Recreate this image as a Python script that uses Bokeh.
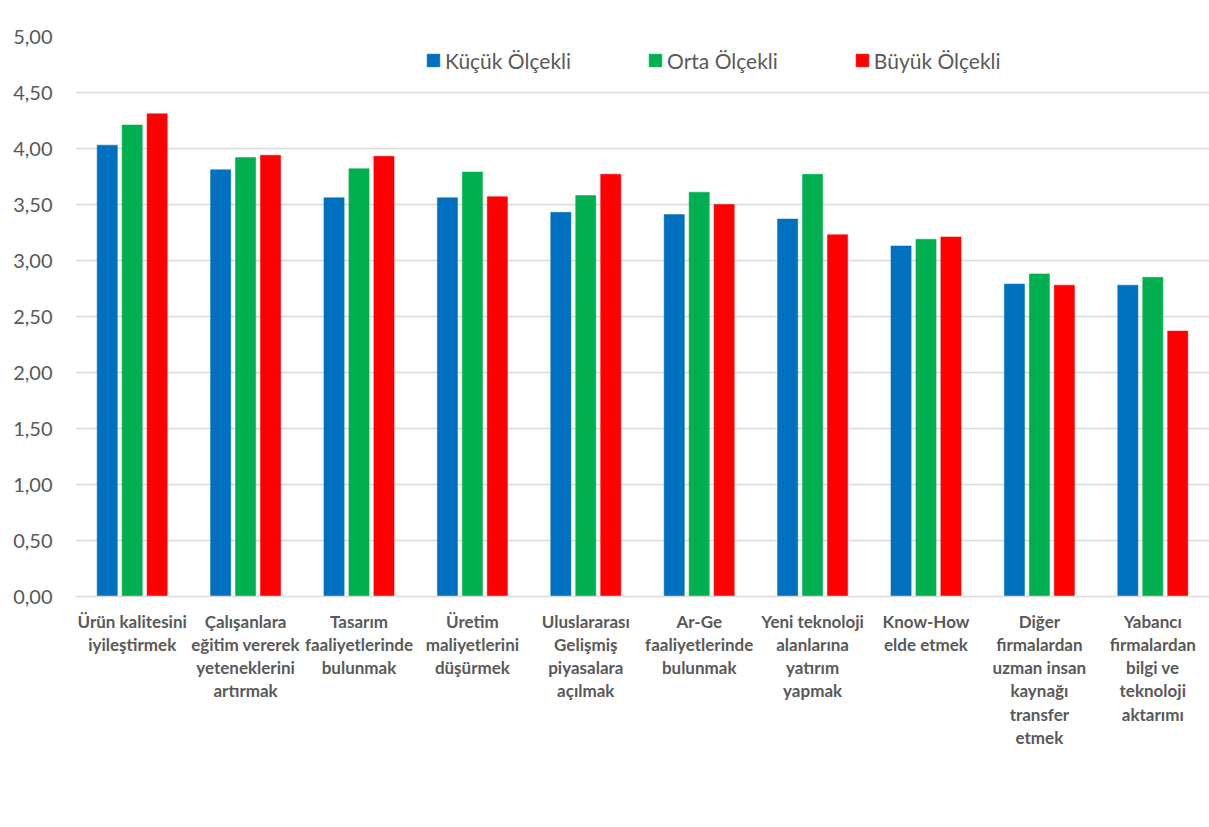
from bokeh.plotting import figure
from bokeh.models import ColumnDataSource, FactorRange, FixedTicker, CustomJSTickFormatter, Legend
from bokeh.transform import dodge
from bokeh.embed import file_html
from bokeh.resources import INLINE

categories = [
    "Ürün kalitesini\niyileştirmek",
    "Çalışanlara\neğitim vererek\nyeteneklerini\nartırmak",
    "Tasarım\nfaaliyetlerinde\nbulunmak",
    "Üretim\nmaliyetlerini\ndüşürmek",
    "Uluslararası\nGelişmiş\npiyasalara\naçılmak",
    "Ar-Ge\nfaaliyetlerinde\nbulunmak",
    "Yeni teknoloji\nalanlarına\nyatırım\nyapmak",
    "Know-How\nelde etmek",
    "Diğer\nfirmalardan\nuzman insan\nkaynağı\ntransfer\netmek",
    "Yabancı\nfirmalardan\nbilgi ve\nteknoloji\naktarımı",
]
kucuk = [4.03, 3.81, 3.56, 3.56, 3.43, 3.41, 3.37, 3.13, 2.79, 2.78]
orta = [4.21, 3.92, 3.82, 3.79, 3.58, 3.61, 3.77, 3.19, 2.88, 2.85]
buyuk = [4.31, 3.94, 3.93, 3.57, 3.77, 3.50, 3.23, 3.21, 2.78, 2.37]
series_names = ["Küçük Ölçekli", "Orta Ölçekli", "Büyük Ölçekli"]
y_ticks = [0.0, 0.5, 1.0, 1.5, 2.0, 2.5, 3.0, 3.5, 4.0, 4.5, 5.0]

colors = ["#0070C0", "#00B050", "#FF0000"]
FONT = "Lato"
GREY = "#595959"

source = ColumnDataSource(data=dict(cat=categories, kucuk=kucuk, orta=orta, buyuk=buyuk))

p = figure(
    x_range=FactorRange(factors=categories),
    y_range=(0, 5),
    width=1209, height=827,
    output_backend="svg", toolbar_location=None,
    min_border_left=75, min_border_right=0, min_border_top=36, min_border_bottom=231,
)
p.outline_line_color = None
p.xgrid.grid_line_color = None
p.ygrid.grid_line_color = "#d9d9d9"
p.ygrid.grid_line_width = 1.3

renderers = []
for col, off, c in zip(["kucuk", "orta", "buyuk"], [-0.22, 0.0, 0.22], colors):
    r = p.vbar(x=dodge("cat", off, range=p.x_range), top=col, width=0.178, source=source,
               fill_color=c, line_color=c, line_width=0.5)
    renderers.append(r)

legend = Legend(items=[(n, [r]) for n, r in zip(series_names, renderers)],
                orientation="horizontal", location=(350, 523))
legend.glyph_width = 16
legend.glyph_height = 16
legend.label_standoff = 4
legend.spacing = 76
legend.padding = 0
legend.margin = 0
legend.border_line_alpha = 0
legend.background_fill_alpha = 0
legend.label_text_font = FONT
legend.label_text_font_size = "21px"
legend.label_text_color = GREY
legend.label_height = 26
p.add_layout(legend, "center")

p.yaxis.ticker = FixedTicker(ticks=y_ticks)
p.yaxis.formatter = CustomJSTickFormatter(code="return tick.toFixed(2).replace('.', ',');")
p.yaxis.axis_line_color = None
p.yaxis.major_tick_line_color = None
p.yaxis.minor_tick_line_color = None
p.yaxis.major_tick_out = 0
p.yaxis.major_tick_in = 0
p.yaxis.major_label_standoff = 23
p.yaxis.major_label_text_font = FONT
p.yaxis.major_label_text_font_size = "20px"
p.yaxis.major_label_text_color = GREY

p.xaxis.axis_line_color = "#d9d9d9"
p.xaxis.axis_line_width = 1.3
p.xaxis.major_tick_line_color = None
p.xaxis.minor_tick_line_color = None
p.xaxis.major_tick_out = 0
p.xaxis.major_tick_in = 0
p.xaxis.major_label_standoff = 14
p.xaxis.major_label_text_font = FONT
p.xaxis.major_label_text_font_size = "17px"
p.xaxis.major_label_text_font_style = "bold"
p.xaxis.major_label_text_color = GREY
p.xaxis.major_label_text_line_height = 1.11

open("out.html", "w").write(file_html(p, INLINE))
